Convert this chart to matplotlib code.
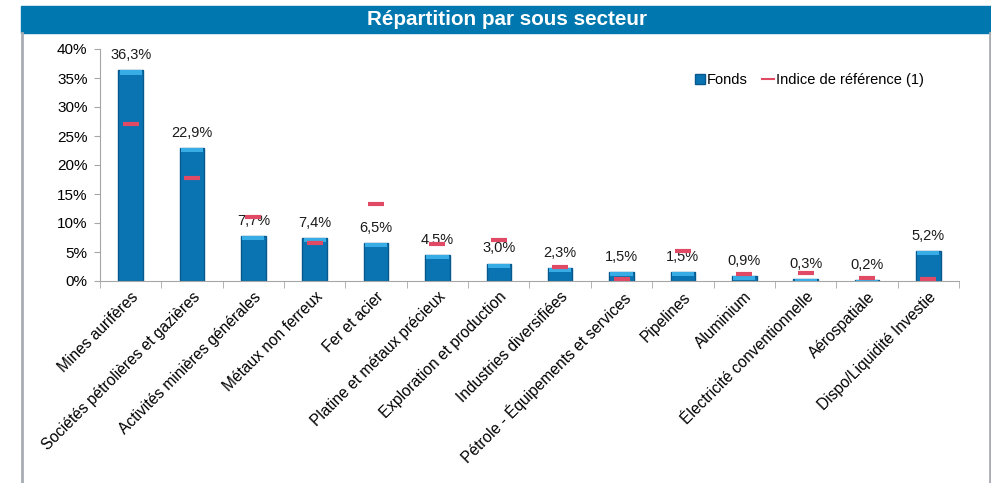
import matplotlib.pyplot as plt
from matplotlib.patches import Rectangle
from matplotlib.lines import Line2D
import numpy as np

plt.rcParams['font.family'] = ['Liberation Sans', 'DejaVu Sans']

# data
categories = ["Mines aurifères", "Sociétés pétrolières et gazières",
              "Activités minières générales", "Métaux non ferreux",
              "Fer et acier", "Platine et métaux précieux",
              "Exploration et production", "Industries diversifiées",
              "Pétrole - Équipements et services", "Pipelines", "Aluminium",
              "Électricité conventionnelle", "Aérospatiale",
              "Dispo/Liquidité Investie"]
fonds = [36.3, 22.9, 7.7, 7.4, 6.5, 4.5, 3.0, 2.3, 1.5, 1.5, 0.9, 0.3, 0.2, 5.2]
indice = [27.1, 17.7, 11.0, 6.6, 13.2, 6.4, 7.1, 2.4, 0.3, 5.2, 1.15, 1.4, 0.5, 0.3]
yticks = [0, 5, 10, 15, 20, 25, 30, 35, 40]

BLUE = '#0a74b2'
BLUE_DARK = '#07588c'
BLUE_LIGHT = '#38ace4'
RED = '#e04a64'
GRAY = '#a6a6a6'

fig = plt.figure(figsize=(9.91, 4.83), dpi=100)

# header band + frame lines
W, H = 991, 483
fig.patches.append(Rectangle((21 / W, 1 - 33 / H), 1 - 21 / W, 27 / H,
                             transform=fig.transFigure, color='#0077ae', zorder=0))
fig.text(507 / W, 1 - 19.5 / H, "Répartition par sous secteur", color='white',
         fontsize=14.9, fontweight='bold', ha='center', va='center')
fig.add_artist(Line2D([22 / W, 22 / W], [0, 1 - 33 / H], color='#a8adb3', lw=2,
                      transform=fig.transFigure))
fig.add_artist(Line2D([989.5 / W, 989.5 / W], [0, 1 - 33 / H], color='#a8adb3', lw=2,
                      transform=fig.transFigure))

ax = fig.add_axes([100 / W, 1 - 281 / H, 859 / W, 232 / H])
x = np.arange(len(categories))
f = np.array(fonds)

ax.bar(x, f, width=0.4, color=BLUE, edgecolor=BLUE_DARK, linewidth=1, zorder=2)
cap = np.minimum(0.7, f)
ax.bar(x, cap, width=0.36, bottom=f - cap, color=BLUE_LIGHT, linewidth=0, zorder=3)
ax.hlines(indice, x - 0.13, x + 0.13, color=RED, lw=3, zorder=4)

for xi, v in zip(x, fonds):
    ax.text(xi, v + 1.4, f"{v:.1f}%".replace('.', ','), ha='center', va='bottom',
            fontsize=10.5, color='#1a1a1a')

ax.set_xlim(-0.5, len(categories) - 0.5)
ax.set_ylim(0, 40)
ax.set_yticks(yticks)
ax.set_yticklabels([f"{t}%" for t in yticks], fontsize=11)
ax.set_xticks(x)
ax.set_xticklabels(categories, rotation=45, ha='right', rotation_mode='anchor',
                   fontsize=11.2)
ax.set_xticks(np.arange(len(categories) + 1) - 0.5, minor=True)
ax.tick_params(axis='x', which='major', length=0, pad=6)
ax.tick_params(axis='x', which='minor', length=5, color=GRAY, direction='out')
ax.tick_params(axis='y', length=4, color=GRAY, pad=5)

for s in ['top', 'right']:
    ax.spines[s].set_visible(False)
ax.spines['left'].set_color(GRAY)
ax.spines['bottom'].set_color(GRAY)

handles = [Line2D([], [], marker='s', color=BLUE, markeredgecolor=BLUE_DARK,
                  linestyle='none', markersize=7),
           Line2D([], [], color=RED, lw=1.5)]
ax.legend(handles, ["Fonds", "Indice de référence (1)"], loc='center',
          bbox_to_anchor=(0.825, 0.866), ncol=2, frameon=False, fontsize=10.5,
          handlelength=0.8, handletextpad=0.1, columnspacing=1.0)

fig.savefig('out.png', dpi=100)
